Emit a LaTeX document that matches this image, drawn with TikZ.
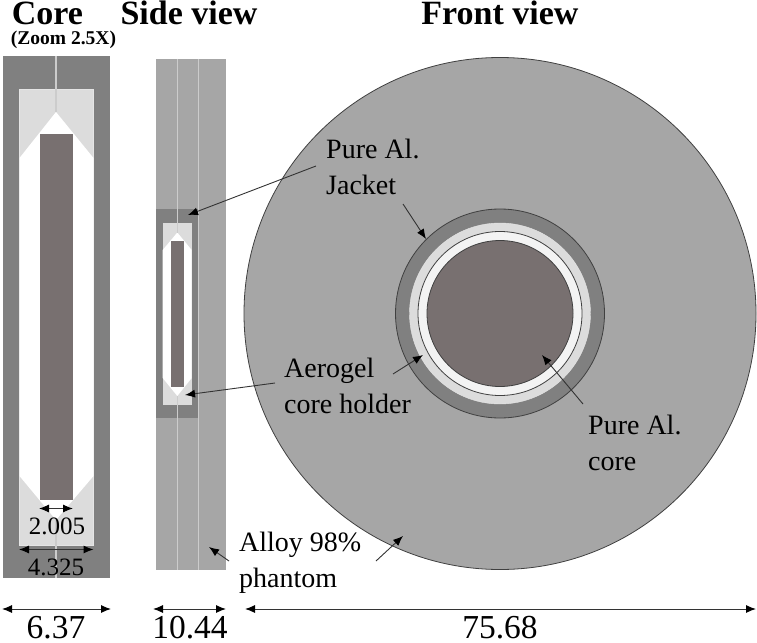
\documentclass[tikz,border=0pt]{standalone}
\usepackage{fontspec}
\setmainfont{Liberation Serif}
\usepackage{xcolor}
\usetikzlibrary{arrows.meta}
\definecolor{holder}{HTML}{808080}
\definecolor{aerogel}{HTML}{DCDCDC}
\definecolor{phantom}{HTML}{A6A6A6}
\definecolor{purecore}{HTML}{787070}
\definecolor{gapring}{HTML}{F3F3F3}
\tikzset{
  title/.style={font=\fontsize{34}{36}\selectfont\bfseries,inner sep=0pt,anchor=base},
  callout/.style={font=\fontsize{28}{35.5}\selectfont,inner sep=0pt,align=left,anchor=west},
  measure/.style={font=\fontsize{33.5}{36}\selectfont,inner sep=0pt,anchor=base},
  smallmeasure/.style={font=\fontsize{25}{27}\selectfont,inner sep=0pt,anchor=base},
  tip/.style={-{Latex[length=10pt,width=8pt,black]},draw=black!80,line width=0.9pt},
  bothtip/.style={{Latex[length=10pt,width=8pt,black]}-{Latex[length=10pt,width=8pt,black]},draw=black!80,line width=1pt},
  seam/.style={draw=white!80!black,line width=1.4pt},
  ring/.style={draw=black!75,line width=0.8pt}
}
\begin{document}
\begin{tikzpicture}[x=1pt,y=-1pt]
   \useasboundingbox (0,0) rectangle (757,642);

   \node[title] (coretitle) at (47.5,24.5) {Core};
   \node[title,font=\fontsize{19.5}{21}\selectfont\bfseries] (zoomtitle) at (63.5,45) {(Zoom 2.5X)};
   \node[title] (sidetitle) at (189,24.5) {Side view};
   \node[title] (fronttitle) at (500,24.5) {Front view};

   \fill[holder] (3,56) rectangle (110,578);
   \fill[aerogel,draw=white!90!black,line width=0.6pt] (19.5,89) rectangle (93.5,545);
   \fill[white] (56,112) -- (93.5,158) -- (93.5,476) -- (56,520) -- (19.5,476) -- (19.5,158) -- cycle;
   \fill[purecore] (39.5,134) rectangle (72.5,500);
   \draw[seam] (56,56) -- (56,112);
   \draw[seam] (56,520) -- (56,578);

   \fill[phantom] (156,59) rectangle (226,570);
   \fill[holder] (156,209) rectangle (198,418);
   \fill[aerogel] (162.7,223) rectangle (191.7,405);
   \fill[white] (177.3,232.5) -- (191.7,250) -- (191.7,378) -- (177.3,396) -- (162.7,378) -- (162.7,250) -- cycle;
   \fill[purecore] (170.7,240.7) rectangle (183.7,386.7);
   \draw[seam] (177.3,59) -- (177.3,232.5);
   \draw[seam] (177.3,396) -- (177.3,570);
   \draw[seam] (198.5,59) -- (198.5,570);

   \coordinate (frontc) at (500,313.5);
   \filldraw[fill=phantom,ring] (frontc) circle (256);
   \filldraw[fill=holder,ring] (frontc) circle (104.5);
   \filldraw[fill=aerogel,draw=white!90!black] (frontc) circle (90.5);
   \filldraw[fill=gapring,ring] (frontc) circle (82);
   \filldraw[fill=purecore,ring] (frontc) circle (73);

   \node[callout] (jacketlabel) at (326,167) {Pure Al.\\Jacket};
   \node[callout] (aerogellabel) at (284,386) {Aerogel\\core holder};
   \node[callout] (corelabel) at (588,443) {Pure Al.\\core};
   \node[callout] (alloylabel) at (239,563) {Alloy 98\%\\phantom};

   \node[smallmeasure] (innerwidth) at (57,534) {2.005};
   \node[smallmeasure] (holderwidth) at (56,575) {4.325};
   \node[measure] (corewidth) at (56,638) {6.37};
   \node[measure] (sidewidth) at (190,638) {10.44};
   \node[measure] (frontwidth) at (500,638) {75.68};

   \coordinate (jacketfromside) at (316,166);
   \coordinate (jacketside) at (188,215);
   \coordinate (jacketfromfront) at (403,204);
   \coordinate (jacketfront) at (426,239);
   \coordinate (aerogelfromside) at (275,383);
   \coordinate (aerogelside) at (185,395);
   \coordinate (aerogelfromfront) at (393,374);
   \coordinate (aerogelfront) at (423,355);
   \coordinate (corefrom) at (583,404);
   \coordinate (coreto) at (542,355);
   \coordinate (alloyfromside) at (229,561);
   \coordinate (alloyside) at (209,547);
   \coordinate (alloyfromfront) at (376,561);
   \coordinate (alloyfront) at (403,536);
   \coordinate (innerl) at (39,508.5);
   \coordinate (innerr) at (73,508.5);
   \coordinate (holderl) at (19,549.5);
   \coordinate (holderr) at (93.5,549.5);
   \coordinate (corel) at (2,609);
   \coordinate (corer) at (111,609);
   \coordinate (sidel) at (153,609);
   \coordinate (sider) at (226,609);
   \coordinate (frontl) at (245,609);
   \coordinate (frontr) at (756,609);

   \path
   (jacketfromside) edge[tip] (jacketside)
   (jacketfromfront) edge[tip] (jacketfront)
   (aerogelfromside) edge[tip] (aerogelside)
   (aerogelfromfront) edge[tip] (aerogelfront)
   (corefrom) edge[tip] (coreto)
   (alloyfromside) edge[tip] (alloyside)
   (alloyfromfront) edge[tip] (alloyfront);

   \path
   (innerl) edge[bothtip] (innerr)
   (holderl) edge[bothtip] (holderr)
   (corel) edge[bothtip] (corer)
   (sidel) edge[bothtip] (sider)
   (frontl) edge[bothtip] (frontr);
\end{tikzpicture}
\end{document}
